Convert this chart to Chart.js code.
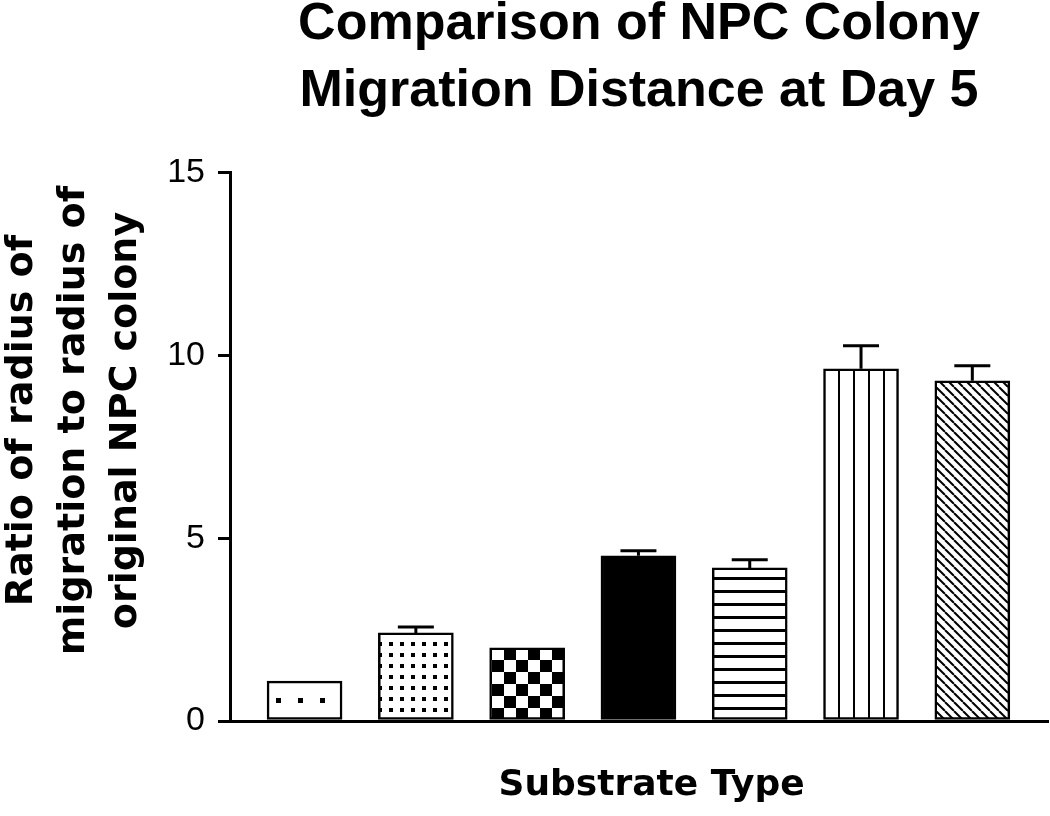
<!DOCTYPE html>
<html>
<head>
<meta charset="utf-8">
<script src="https://cdn.jsdelivr.net/npm/chart.js@4"></script>
<style>
  body { margin: 0; background: #ffffff; }
  canvas { display: block; }
</style>
</head>
<body>
<canvas id="npcChart" width="1050" height="816"></canvas>
<script>
// values (ratio of radii, mean and upper SEM)
var substrates = ['1', '2', '3', '4', '5', '6', '7'];
var ratioMeans = [1.09, 2.41, 2.0, 4.52, 4.19, 9.64, 9.31];
var ratioErrors = [0, 0.16, 0, 0.14, 0.22, 0.63, 0.41];
var yTicks = [0, 5, 10, 15];

var titleLines = ['Comparison of NPC Colony', 'Migration Distance at Day 5'];
var yTitleLines = ['    Ratio of radius of', '    migration to radius of', '    original NPC colony'];
var xTitle = '  Substrate Type';

function makePattern(w, h, draw) {
    var c = document.createElement('canvas');
    c.width = w;
    c.height = h;
    var p = c.getContext('2d');
    p.fillStyle = '#ffffff';
    p.fillRect(0, 0, w, h);
    p.fillStyle = '#000000';
    p.strokeStyle = '#000000';
    draw(p);
    return document.createElement('canvas').getContext('2d').createPattern(c, 'repeat');
}

var fills = [
    // sparse dots
    makePattern(22, 44, function (p) { p.fillRect(12, 38, 5, 5); }),
    // dense dots
    makePattern(11, 11, function (p) { p.fillRect(4, 4, 4, 4); }),
    // checkerboard
    makePattern(24, 24, function (p) { p.fillRect(0, 0, 12, 12); p.fillRect(12, 12, 12, 12); }),
    // solid
    '#000000',
    // horizontal lines
    makePattern(4, 13, function (p) { p.fillRect(0, 5, 4, 3); }),
    // vertical lines
    makePattern(15, 4, function (p) { p.fillRect(13, 0, 3, 4); }),
    // diagonal hatch
    makePattern(9, 9, function (p) {
        p.lineWidth = 2;
        for (var k = -1; k <= 1; k++) {
            p.beginPath();
            p.moveTo(k * 9, 0);
            p.lineTo(k * 9 + 9, 9);
            p.stroke();
        }
    })
];

var errorBars = {
    id: 'errorBars',
    afterDatasetsDraw: function (chart) {
        var ctx = chart.ctx;
        var yScale = chart.scales.y;
        var bars = chart.getDatasetMeta(0).data;
        ctx.save();
        ctx.strokeStyle = '#000000';
        ctx.lineWidth = 3;
        bars.forEach(function (bar, i) {
            if (!ratioErrors[i]) return;
            var yTop = yScale.getPixelForValue(ratioMeans[i]);
            var yErr = yScale.getPixelForValue(ratioMeans[i] + ratioErrors[i]);
            ctx.beginPath();
            ctx.moveTo(bar.x, yTop);
            ctx.lineTo(bar.x, yErr);
            ctx.moveTo(bar.x - 18, yErr);
            ctx.lineTo(bar.x + 18, yErr);
            ctx.stroke();
        });
        ctx.restore();
    }
};

var ctx = document.getElementById('npcChart').getContext('2d');

var npcChart = new Chart(ctx, {
    type: 'bar',
    data: {
        datasets: [{
            label: 'Ratio',
            data: ratioMeans.map(function (v, i) { return { x: i, y: v }; }),
            backgroundColor: fills,
            borderColor: '#000000',
            borderWidth: 2.5,
            borderSkipped: false,
            barThickness: 75
        }]
    },
    options: {
        responsive: false,
        animation: false,
        layout: {
            padding: { left: 0, right: 2, top: 0, bottom: 0 }
        },
        plugins: {
            legend: { display: false },
            tooltip: { enabled: false },
            title: {
                display: true,
                text: titleLines,
                fullSize: false,
                color: '#000000',
                font: { family: 'Liberation Sans', size: 52, weight: 'bold', lineHeight: 1.288 },
                padding: { top: -9, bottom: 48 }
            }
        },
        scales: {
            x: {
                type: 'linear',
                offset: false,
                min: -0.67,
                max: 6.68,
                ticks: { display: false },
                grid: { display: false },
                border: { display: true, color: '#000000', width: 3 },
                title: {
                    display: true,
                    text: xTitle,
                    color: '#000000',
                    font: { family: 'DejaVu Sans', size: 36, weight: 'bold', lineHeight: 1.2 },
                    padding: { top: 0, bottom: 9 }
                },
                afterFit: function (s) { s.height = 95; }
            },
            y: {
                min: 0,
                max: 15,
                afterBuildTicks: function (s) {
                    s.ticks = yTicks.map(function (v) { return { value: v }; });
                },
                ticks: {
                    color: '#000000',
                    padding: 13,
                    font: { family: 'Liberation Sans', size: 34 }
                },
                grid: {
                    display: true,
                    drawOnChartArea: false,
                    drawTicks: true,
                    tickLength: 12,
                    color: '#000000',
                    lineWidth: 3
                },
                border: { display: true, color: '#000000', width: 3 },
                title: {
                    display: true,
                    text: yTitleLines,
                    color: '#000000',
                    font: { family: 'DejaVu Sans', size: 38, weight: 'bold', lineHeight: 1.368 },
                    padding: { top: -4, bottom: 0 }
                },
                afterFit: function (s) { s.width = 230; }
            }
        }
    },
    plugins: [errorBars]
});
</script>
</body>
</html>
